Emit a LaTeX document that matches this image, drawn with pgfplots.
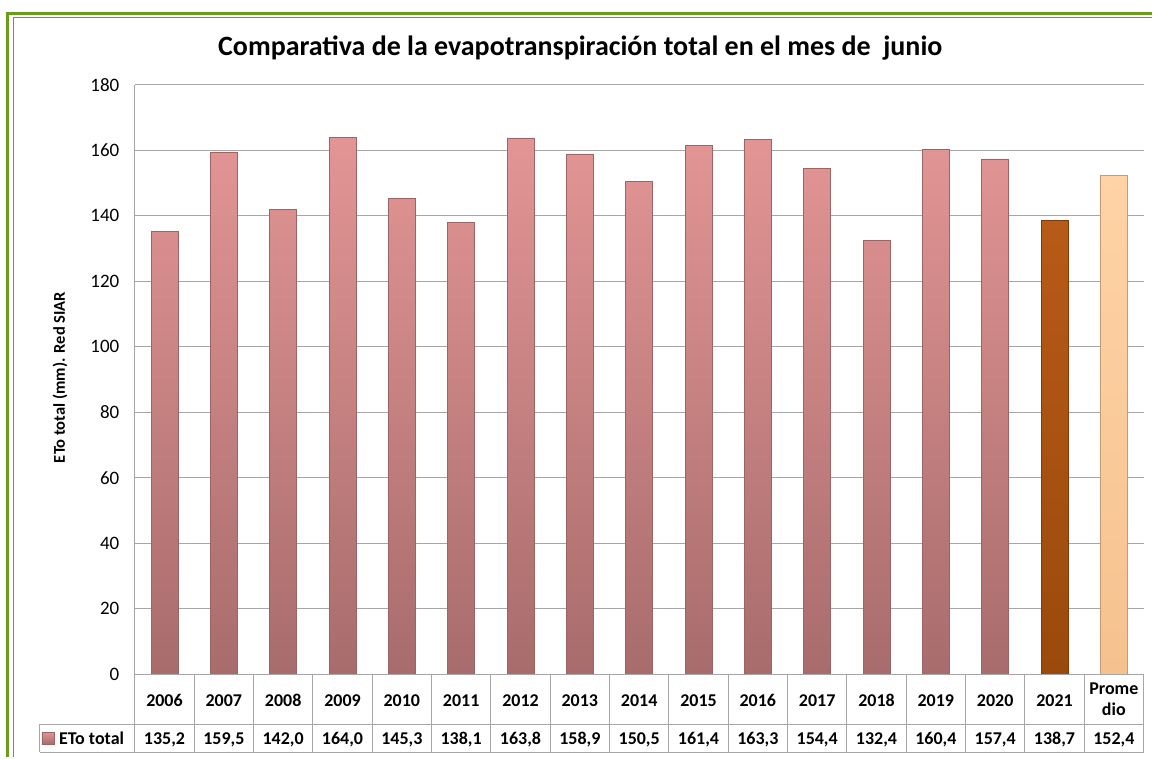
\documentclass[border=0pt]{standalone}
\usepackage{pgfplots}
\pgfplotsset{compat=1.18}
\usepackage{fontspec}
\setmainfont{Carlito}

\definecolor{gridgray}{HTML}{A6A6A6}
\definecolor{framegreen}{HTML}{6A9E1A}
\definecolor{barTop}{HTML}{E39595}
\definecolor{barBot}{HTML}{A86C6C}
\definecolor{barEdge}{HTML}{9C6464}
\definecolor{curTop}{HTML}{B85A18}
\definecolor{curBot}{HTML}{9A4A0C}
\definecolor{avgTop}{HTML}{FFD3A6}
\definecolor{avgBot}{HTML}{F5C28E}

\begin{document}
\begin{tikzpicture}[x=1pt,y=1pt]
\path (0,0) rectangle (1153,758);

% green frame (cropped at right and bottom)
\draw[framegreen, line width=3pt] (8,0) -- (8,744.5) -- (1153,744.5);
\draw[framegreen, line width=1pt] (13.5,0) -- (13.5,740) -- (1153,740);

% title
\node[font=\fontsize{28}{30}\selectfont\bfseries] at (581,710)
  {Comparativa de la evapotranspiración total en el mes de\ \ junio};

% y label
\node[rotate=90, font=\fontsize{16.5}{20}\selectfont\bfseries] at (60,380)
  {ETo total (mm). Red SIAR};

\begin{axis}[
    at={(135pt,83pt)}, anchor=south west,
    scale only axis,
    width=1010pt, height=590pt,
    xmin=-0.5, xmax=16.5,
    ymin=0, ymax=180,
    ytick={0,20,...,180},
    xtick={0,1,...,16},
    xticklabels={2006,2007,2008,2009,2010,2011,2012,2013,2014,2015,2016,2017,2018,2019,2020,2021,
        {\raisebox{-9pt}{\begin{tabular}[b]{@{}c@{}}Prome\\[1pt]dio\end{tabular}}}},
    xticklabel style={anchor=base, yshift=-32pt,
        font=\fontsize{18}{20}\selectfont\bfseries},
    yticklabel style={font=\fontsize{19}{21}\selectfont, xshift=-12pt},
    /pgf/number format/assume math mode=true,
    major tick length=0pt,
    axis x line*=bottom,
    axis y line*=left,
    axis line style={gridgray, line width=1pt, -},
    ymajorgrids,
    grid style={gridgray, line width=1pt},
    ybar, bar width=27pt, bar shift=0pt,
    clip=false,
]
\addplot[draw=barEdge, line width=0.6pt, bottom color=barBot, top color=barTop] coordinates {
    (0,135.2) (1,159.5) (2,142.0) (3,164.0) (4,145.3) (5,138.1) (6,163.8) (7,158.9)
    (8,150.5) (9,161.4) (10,163.3) (11,154.4) (12,132.4) (13,160.4) (14,157.4)
};
\addplot[draw=curBot!80!black, line width=0.6pt, bottom color=curBot, top color=curTop] coordinates {
    (15,138.7)
};
\addplot[draw=avgBot!80!black, line width=0.6pt, bottom color=avgBot, top color=avgTop] coordinates {
    (16,152.4)
};
\end{axis}

% data table below the axis
\draw[gridgray, line width=1pt] (135,83) -- (1145,83);
\draw[gridgray, line width=1pt] (40,33) -- (1145,33);
\draw[gridgray, line width=1pt] (40,5) -- (1145,5);
\draw[gridgray, line width=1pt] (40,33) -- (40,5);
\foreach \k in {0,...,17}
  \draw[gridgray, line width=1pt] ({135+59.412*\k},83) -- ({135+59.412*\k},5);

\fill[bottom color=barBot, top color=barTop, draw=barEdge, line width=0.5pt] (42,13) rectangle (54,25);
\node[anchor=west, font=\fontsize{18}{20}\selectfont\bfseries, inner sep=0pt] at (59,19) {ETo total};

\foreach \v [count=\i from 0] in {{135,2},{159,5},{142,0},{164,0},{145,3},{138,1},{163,8},{158,9},{150,5},{161,4},{163,3},{154,4},{132,4},{160,4},{157,4},{138,7},{152,4}}
  \node[font=\fontsize{18}{20}\selectfont\bfseries, anchor=base] at ({135+59.412*(\i+0.5)},13) {\v};
\end{tikzpicture}
\end{document}
